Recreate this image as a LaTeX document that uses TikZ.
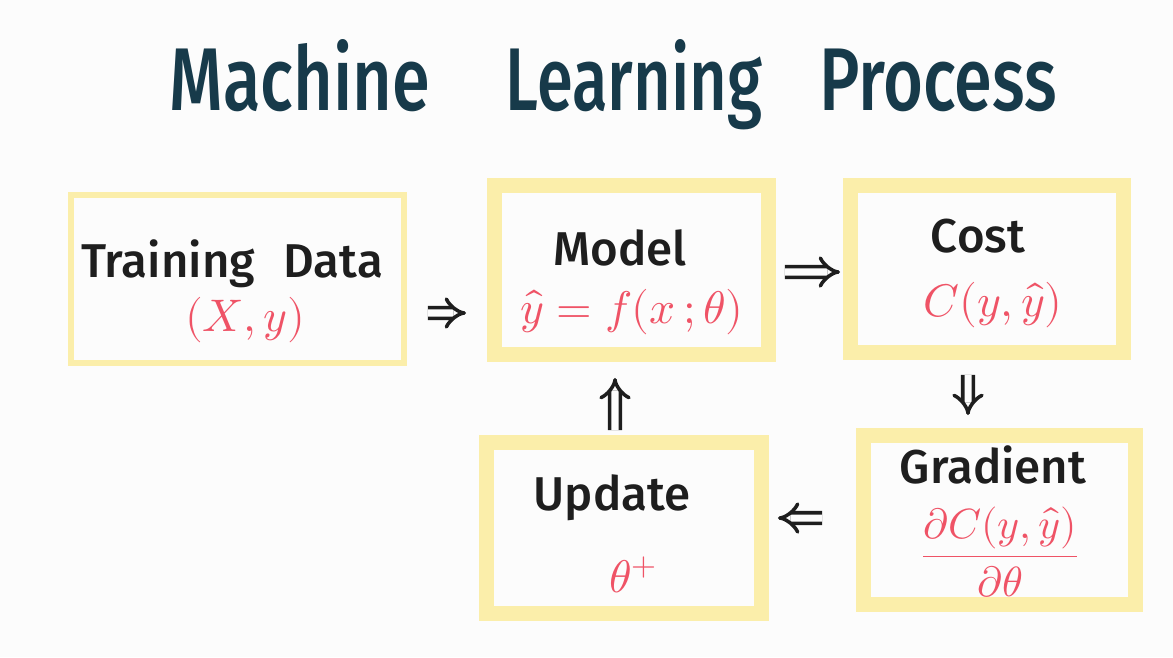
\documentclass[tikz,border=0pt]{standalone}
\usepackage{fontspec}
\usepackage{unicode-math}
\setmainfont{Fira Sans}[BoldFont={* Medium}]
\usetikzlibrary{arrows.meta}
\definecolor{bg}{HTML}{FCFCFC}
\definecolor{boxy}{HTML}{FBEEAA}
\definecolor{ttl}{HTML}{173A4A}
\definecolor{rd}{HTML}{EF5366}
\definecolor{ink}{HTML}{1E1E1E}
\tikzset{
  box/.style={draw=boxy, line width=0.3cm, fill=bg, inner sep=0},
  thinbox/.style={draw=boxy, line width=0.12cm, fill=bg, inner sep=0},
  lbl/.style={text=ink, font=\fontsize{27}{30}\selectfont\bfseries, anchor=base, inner sep=0},
  mth/.style={text=rd, font=\fontsize{26}{30}\selectfont, inner sep=0},
  ttlw/.style={text=ttl, font=\fontsize{39}{44}\selectfont\bfseries, anchor=base, inner sep=0},
  dbl/.style={draw=ink, line width=2pt, double=bg, double distance=4pt, -{Implies}},
}
\begin{document}
\begin{tikzpicture}[x=0.02cm, y=-0.02cm]
  \fill[bg] (0,0) rectangle (1173,657);
  \useasboundingbox (0,0) rectangle (1173,657);

  % title
  \node[ttlw] (t1) at (300,110) {\scalebox{1}[1.3]{Machine}};
  \node[ttlw] (t2) at (634,110) {\scalebox{0.95}[1.3]{Learning}};
  \node[ttlw] (t3) at (938,110) {\scalebox{1}[1.3]{Process}};

  % boxes
  \node[thinbox, minimum width=6.66cm, minimum height=3.36cm] (train) at (237.5,279) {};
  \node[box, minimum width=5.48cm, minimum height=3.38cm] (model) at (631.5,270) {};
  \node[box, minimum width=5.46cm, minimum height=3.34cm] (cost) at (987,269) {};
  \node[box, minimum width=5.44cm, minimum height=3.38cm] (grad) at (999.5,520) {};
  \node[box, minimum width=5.50cm, minimum height=3.42cm] (upd) at (624,528) {};

  % labels
  \node[lbl] (trainT) at (232,277) {Training\hspace{0.6em}Data};
  \node[mth] (trainM) at (245,320) {$(X, y)$};
  \node[lbl] (modelT) at (620,265) {Model};
  \node[mth] (modelM) at (632,312) {$\hat{y} = f(x\,;\theta)$};
  \node[lbl] (costT) at (978,252) {Cost};
  \node[mth] (costM) at (993,305) {$C(y, \hat{y})$};
  \node[lbl] (gradT) at (993,483) {Gradient};
  \node[mth, font=\fontsize{24}{28}\selectfont] (gradM) at (1000,552) {$\dfrac{\partial C(y, \hat{y})}{\partial \theta}$};
  \node[lbl] (updT) at (612,510) {Update};
  \node[mth] (updM) at (633,575) {$\theta^{+}$};

  % connectors
  \draw[dbl, shorten <=0.42cm, shorten >=0.42cm]
    ([yshift=-0.68cm]train.east) -- ([yshift=-0.86cm]model.west);
  \draw[dbl, shorten <=0.18cm, shorten >=0.06cm]
    ([yshift=-0.04cm]model.east) -- ([yshift=-0.06cm]cost.west);
  \draw[dbl, shorten <=0.30cm, shorten >=0.26cm]
    ([xshift=-0.38cm]cost.south) -- ([xshift=-0.63cm]grad.north);
  \draw[dbl, shorten <=0.68cm, shorten >=0.18cm]
    ([yshift=0.04cm]grad.west) -- ([yshift=0.2cm]upd.east);
  \draw[dbl, shorten <=0.10cm, shorten >=0.32cm]
    ([xshift=-0.18cm]upd.north) -- ([xshift=-0.33cm]model.south);
\end{tikzpicture}
\end{document}
